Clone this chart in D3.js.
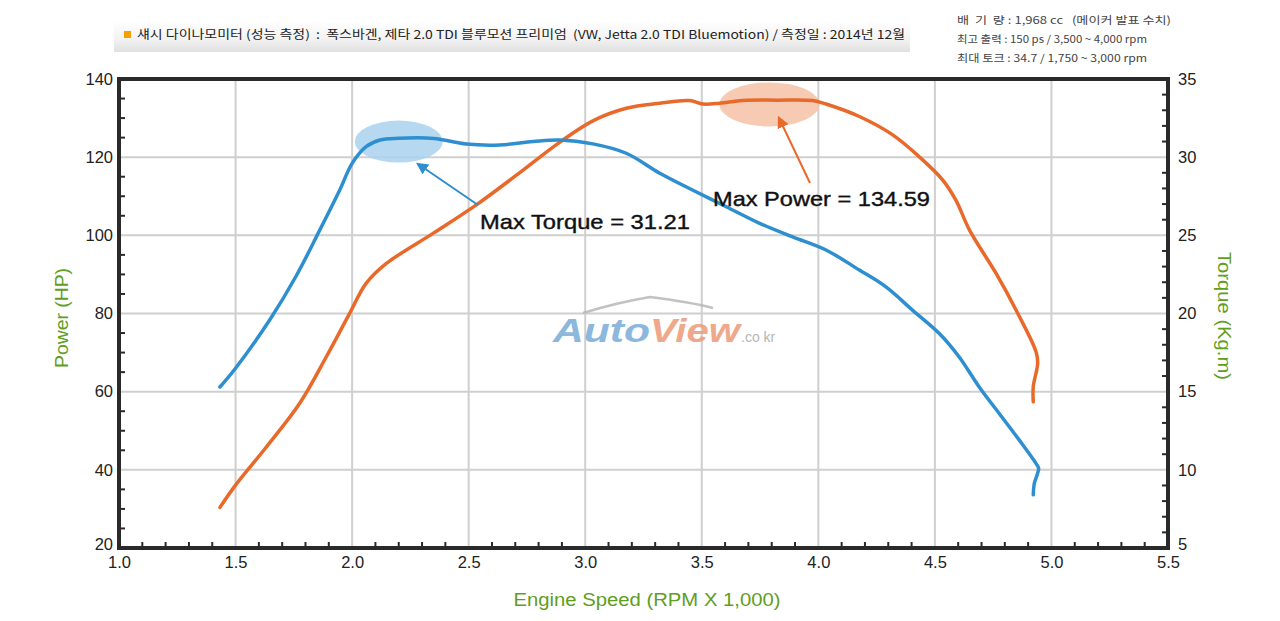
<!DOCTYPE html>
<html>
<head>
<meta charset="utf-8">
<script src="https://cdn.jsdelivr.net/npm/d3@7"></script>
<style>
  body { margin: 0; background: #fff; }
  svg { display: block; font-family: "Liberation Sans", Arial, sans-serif; }
</style>
</head>
<body>
<svg id="chart" width="1280" height="621"></svg>
<script>
// Power curve (HP) vs engine speed (rpm x 1000)
const powerRpm = [1.433, 1.5, 1.633, 1.776, 1.89, 1.99, 2.06, 2.147, 2.347, 2.533, 2.705, 2.89, 3.033,
  3.176, 3.32, 3.447, 3.505, 3.576, 3.676, 3.82, 3.976, 4.033, 4.176, 4.319, 4.433, 4.533, 4.59,
  4.648, 4.762, 4.848, 4.934, 4.941, 4.922, 4.922];
const powerHp = [30.4, 36.1, 45.9, 57.1, 69.0, 80.1, 87.7, 92.8, 100.5, 107.8, 115.4, 123.8, 129.3,
  132.5, 133.8, 134.5, 133.6, 133.8, 134.5, 134.59, 134.5, 133.6, 130.4, 125.7, 120.1, 114.2, 109.0,
  101.4, 90.3, 80.9, 70.2, 67.3, 61.3, 57.4];

// Torque curve (kg.m)
const torqueRpm = [1.433, 1.5, 1.647, 1.76, 1.86, 1.947, 2.0, 2.06, 2.12, 2.2, 2.35, 2.49, 2.633,
  2.776, 2.89, 3.033, 3.176, 3.32, 3.46, 3.605, 3.748, 3.89, 4.033, 4.176, 4.29, 4.405, 4.52,
  4.605, 4.69, 4.776, 4.862, 4.934, 4.945, 4.926, 4.922];
const torqueKgm = [15.3, 16.5, 19.6, 22.4, 25.3, 27.9, 29.6, 30.67, 31.1, 31.21, 31.2, 30.84, 30.78,
  31.0, 31.1, 30.85, 30.25, 28.97, 27.9, 26.83, 25.77, 24.9, 24.06, 22.78, 21.7, 20.2, 18.7,
  17.2, 15.3, 13.6, 11.9, 10.4, 10.1, 9.1, 8.4];

const xTicks = [1.0, 1.5, 2.0, 2.5, 3.0, 3.5, 4.0, 4.5, 5.0, 5.5];
const powerTicks = [20, 40, 60, 80, 100, 120, 140];
const torqueTicks = [5, 10, 15, 20, 25, 30, 35];

const titleText = "섀시 다이나모미터 (성능 측정)  :  폭스바겐, 제타 2.0 TDI 블루모션 프리미엄  (VW, Jetta 2.0 TDI Bluemotion) / 측정일 : 2014년 12월";
const specLines = [
  "배  기  량 : 1,968 cc   (메이커 발표 수치)",
  "최고 출력 : 150 ps / 3,500 ~ 4,000 rpm",
  "최대 토크 : 34.7 / 1,750 ~ 3,000 rpm"
];

const svg = d3.select("#chart");
const plotL = 119, plotR = 1168, plotT = 79, plotB = 548;
const green = "#5f9e1e";
const orange = "#e8692a";
const blue = "#2e8fd0";

const x = d3.scaleLinear().domain([1.0, 5.5]).range([plotL, plotR]);
const yP = d3.scaleLinear().domain([20, 140]).range([plotB, plotT]);
const yT = d3.scaleLinear().domain([5, 35]).range([plotB, plotT]);

// header bar
const defs = svg.append("defs");
const grad = defs.append("linearGradient")
  .attr("id", "hdr").attr("x1", 0).attr("y1", 0).attr("x2", 0).attr("y2", 1);
grad.append("stop").attr("offset", "0%").attr("stop-color", "#ffffff");
grad.append("stop").attr("offset", "60%").attr("stop-color", "#f2f2f2");
grad.append("stop").attr("offset", "100%").attr("stop-color", "#e0e0e0");
svg.append("rect").attr("x", 114).attr("y", 21).attr("width", 796).attr("height", 31)
  .attr("fill", "url(#hdr)");
svg.append("rect").attr("x", 124).attr("y", 31).attr("width", 7).attr("height", 7).attr("fill", "#f5a000");
svg.append("text").attr("x", 137).attr("y", 39).attr("font-size", 12).attr("fill", "#222")
  .attr("textLength", 768).attr("lengthAdjust", "spacingAndGlyphs")
  .attr("font-family", "'Noto Sans CJK KR', sans-serif").style("white-space", "pre")
  .text(titleText);

svg.selectAll(".spec").data(specLines).join("text")
  .attr("x", 957).attr("y", (d, i) => 24 + i * 19)
  .attr("font-size", 10.5).attr("fill", "#444")
  .attr("textLength", (d, i) => [214, 190, 190][i]).attr("lengthAdjust", "spacingAndGlyphs")
  .attr("font-family", "'Noto Sans CJK KR', sans-serif").style("white-space", "pre")
  .text(d => d);

// grid
svg.append("g").selectAll("line").data(xTicks.slice(1, -1)).join("line")
  .attr("x1", d => x(d)).attr("x2", d => x(d)).attr("y1", plotT).attr("y2", plotB)
  .attr("stroke", "#cfcfcf").attr("stroke-width", 2);
svg.append("g").selectAll("line").data(powerTicks.slice(1, -1)).join("line")
  .attr("x1", plotL).attr("x2", plotR).attr("y1", d => yP(d)).attr("y2", d => yP(d))
  .attr("stroke", "#cfcfcf").attr("stroke-width", 2);

// watermark
const wm = svg.append("g").attr("opacity", 0.85);
wm.append("path")
  .attr("d", "M583,313 Q615,303 650,297 Q690,302 713,308")
  .attr("fill", "none").attr("stroke", "#b8b8b8").attr("stroke-width", 2.5);
wm.append("text").attr("x", 553).attr("y", 342).attr("font-size", 33).attr("font-weight", "bold")
  .attr("font-style", "italic").attr("fill", "#78acd8").attr("textLength", 97)
  .attr("lengthAdjust", "spacingAndGlyphs").text("Auto");
wm.append("text").attr("x", 650).attr("y", 342).attr("font-size", 33).attr("font-weight", "bold")
  .attr("font-style", "italic").attr("fill", "#ee9a78").attr("textLength", 90)
  .attr("lengthAdjust", "spacingAndGlyphs").text("View");
wm.append("text").attr("x", 741).attr("y", 342).attr("font-size", 14).attr("fill", "#aaaaaa")
  .text(".co kr");

// highlight ellipses
svg.append("ellipse").attr("cx", x(2.2)).attr("cy", yT(31.0)).attr("rx", 44).attr("ry", 21)
  .attr("fill", "#a9d2ee").attr("opacity", 0.85);
svg.append("ellipse").attr("cx", x(3.79)).attr("cy", yP(133.5)).attr("rx", 50).attr("ry", 22)
  .attr("fill", "#f6c2a6").attr("opacity", 0.85);

// curves
const curve = d3.curveCatmullRom.alpha(0.5);
const lineP = d3.line().x((d, i) => x(powerRpm[i])).y(d => yP(d)).curve(curve);
const lineT = d3.line().x((d, i) => x(torqueRpm[i])).y(d => yT(d)).curve(curve);
svg.append("path").datum(powerHp).attr("d", lineP).attr("fill", "none")
  .attr("stroke", orange).attr("stroke-width", 3.5).attr("stroke-linejoin", "round").attr("stroke-linecap", "round");
svg.append("path").datum(torqueKgm).attr("d", lineT).attr("fill", "none")
  .attr("stroke", blue).attr("stroke-width", 3.5).attr("stroke-linejoin", "round").attr("stroke-linecap", "round");

// arrows
[["arB", blue], ["arO", orange]].forEach(([id, c]) => {
  defs.append("marker").attr("id", id).attr("viewBox", "0 0 10 10").attr("refX", 8).attr("refY", 5)
    .attr("markerWidth", 6).attr("markerHeight", 6).attr("orient", "auto-start-reverse")
    .append("path").attr("d", "M0,0 L10,5 L0,10 z").attr("fill", c);
});
svg.append("line").attr("x1", 478).attr("y1", 205).attr("x2", 418).attr("y2", 164)
  .attr("stroke", blue).attr("stroke-width", 2).attr("marker-end", "url(#arB)");
svg.append("line").attr("x1", 810).attr("y1", 183).attr("x2", 779).attr("y2", 118)
  .attr("stroke", orange).attr("stroke-width", 2).attr("marker-end", "url(#arO)");

svg.append("text").attr("x", 480).attr("y", 229).attr("font-size", 21)
  .attr("fill", "#111").attr("stroke", "#111").attr("stroke-width", 0.4)
  .attr("textLength", 210).attr("lengthAdjust", "spacingAndGlyphs")
  .text("Max Torque = 31.21");
svg.append("text").attr("x", 713).attr("y", 206).attr("font-size", 21)
  .attr("fill", "#111").attr("stroke", "#111").attr("stroke-width", 0.4)
  .attr("textLength", 217).attr("lengthAdjust", "spacingAndGlyphs")
  .text("Max Power = 134.59");

// frame
svg.append("rect").attr("x", plotL).attr("y", plotT).attr("width", plotR - plotL).attr("height", plotB - plotT)
  .attr("fill", "none").attr("stroke", "#2a2a2a").attr("stroke-width", 4);

// axes
const axB = d3.axisBottom(x).tickValues(xTicks).tickFormat(d3.format(".1f")).tickSize(0).tickPadding(10);
const gB = svg.append("g").attr("transform", `translate(0,${plotB})`).call(axB);
const axL = d3.axisLeft(yP).tickValues(powerTicks).tickSize(0).tickPadding(6);
const gL = svg.append("g").attr("transform", `translate(${plotL},0)`).call(axL);
const axR = d3.axisRight(yT).tickValues(torqueTicks).tickSize(0).tickPadding(10);
const gR = svg.append("g").attr("transform", `translate(${plotR},0)`).call(axR);
[gB, gL, gR].forEach(g => {
  g.select(".domain").remove();
  g.selectAll("text").attr("font-size", 16.5).attr("fill", "#222")
    .attr("font-family", "'Liberation Sans', Arial, sans-serif");
});
gB.selectAll("text").attr("dy", "0.6em");
// lowest labels sit right at the corner; nudge them up a touch
gL.selectAll(".tick").filter(d => d === 20).select("text").attr("dy", "0.1em");
gR.selectAll(".tick").filter(d => d === 5).select("text").attr("dy", "0.1em");

// minor ticks (inside)
const minorX = d3.range(1.1, 5.45, 0.1).filter(v => Math.abs(v * 2 - Math.round(v * 2)) > 0.01);
svg.append("g").selectAll("line").data(minorX).join("line")
  .attr("x1", d => x(d)).attr("x2", d => x(d)).attr("y1", plotB).attr("y2", plotB - 6)
  .attr("stroke", "#2a2a2a").attr("stroke-width", 2);
const minorP = d3.range(25, 140, 5).filter(v => v % 20 !== 0);
svg.append("g").selectAll("line").data(minorP).join("line")
  .attr("x1", plotL).attr("x2", plotL + 6).attr("y1", d => yP(d)).attr("y2", d => yP(d))
  .attr("stroke", "#2a2a2a").attr("stroke-width", 2);
const minorT = d3.range(6, 35, 1).filter(v => v % 5 !== 0);
svg.append("g").selectAll("line").data(minorT).join("line")
  .attr("x1", plotR).attr("x2", plotR - 6).attr("y1", d => yT(d)).attr("y2", d => yT(d))
  .attr("stroke", "#2a2a2a").attr("stroke-width", 2);

// axis titles
svg.append("text").attr("transform", "translate(68,318) rotate(-90)").attr("text-anchor", "middle")
  .attr("font-size", 18).attr("fill", green).attr("textLength", 100).attr("lengthAdjust", "spacingAndGlyphs")
  .text("Power (HP)");
svg.append("text").attr("transform", "translate(1218,316) rotate(90)").attr("text-anchor", "middle")
  .attr("font-size", 18).attr("fill", green).attr("textLength", 128).attr("lengthAdjust", "spacingAndGlyphs")
  .text("Torque (Kg.m)");
svg.append("text").attr("x", 647).attr("y", 606).attr("text-anchor", "middle")
  .attr("font-size", 18).attr("fill", green).attr("textLength", 267).attr("lengthAdjust", "spacingAndGlyphs")
  .text("Engine Speed (RPM X 1,000)");
</script>
</body>
</html>
